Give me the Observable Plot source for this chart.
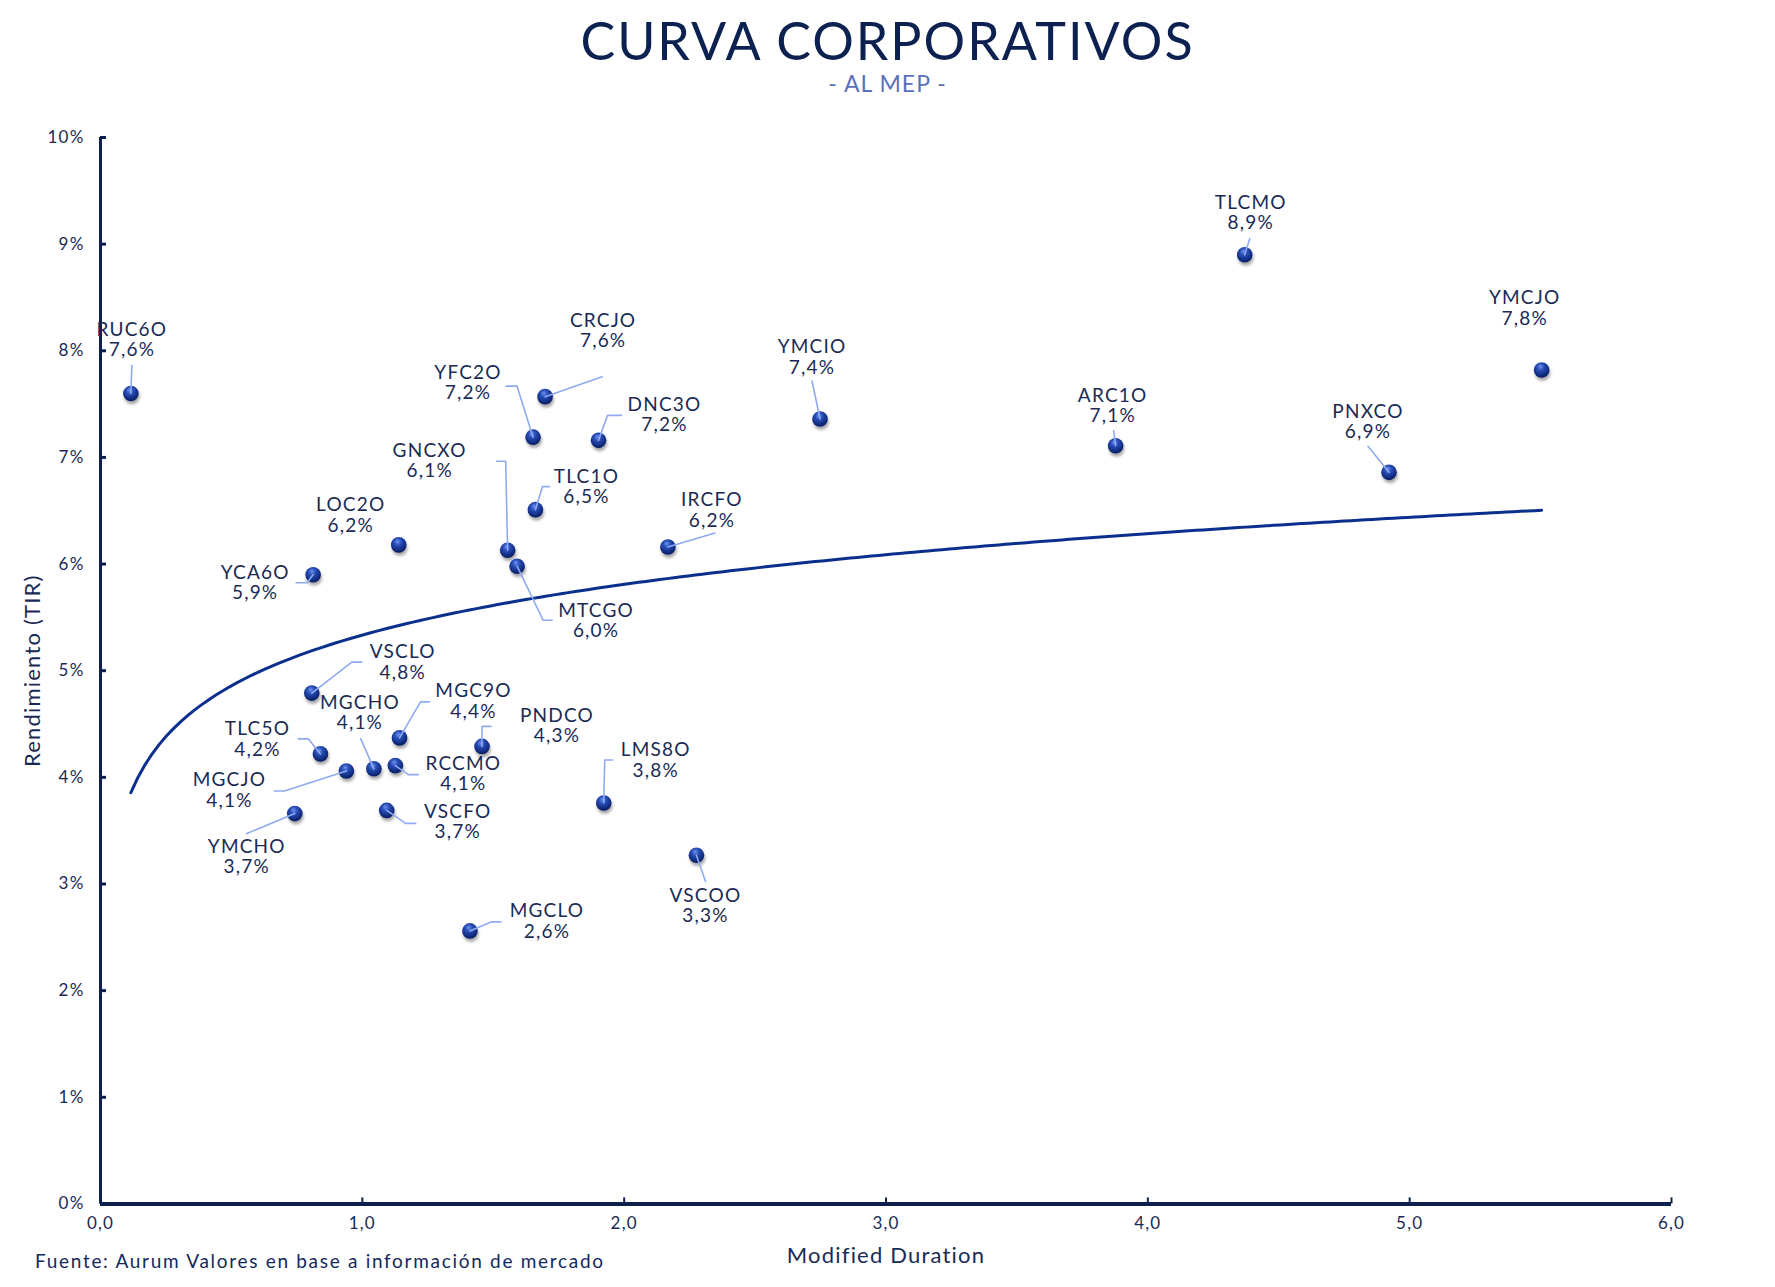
<!DOCTYPE html>
<html>
<head>
<meta charset="utf-8">
<script src="https://cdn.jsdelivr.net/npm/d3@7"></script>
<script src="https://cdn.jsdelivr.net/npm/@observablehq/plot@0.6"></script>
<style>
  html, body { margin: 0; padding: 0; background: #fff; }
  body { width: 1775px; height: 1287px; position: relative; overflow: hidden; font-family: Lato, "Open Sans", sans-serif; }
  #title { position: absolute; left: 0; width: 1775px; top: 14px; text-align: center; font-size: 52px; line-height: 1; color: #0c2150; letter-spacing: 2px; }
  #subtitle { position: absolute; left: 0; width: 1775px; top: 72px; text-align: center; font-size: 23px; line-height: 1; color: #5d6fb9; letter-spacing: 1px; }
  #caption { position: absolute; left: 35px; top: 1251px; font-size: 19px; line-height: 1; color: #14285a; letter-spacing: 1.7px; }
  #chart { position: absolute; left: 0; top: 110px; }
  #chart svg text { letter-spacing: 1.2px; }
</style>
</head>
<body>
<div id="title">CURVA CORPORATIVOS</div>
<div id="subtitle">- AL MEP -</div>
<div id="chart"></div>
<div id="caption">Fuente: Aurum Valores en base a información de mercado</div>
<script>
// ---- data ----
const names = ["RUC6O","YFC2O","CRCJO","DNC3O","YMCIO","TLCMO","YMCJO","ARC1O","PNXCO","GNCXO","TLC1O","LOC2O","YCA6O","MTCGO","IRCFO","VSCLO","MGCHO","MGC9O","TLC5O","PNDCO","RCCMO","MGCJO","YMCHO","VSCFO","LMS8O","VSCOO","MGCLO"];
const duration = [0.116,1.652,1.698,1.902,2.748,4.370,5.504,3.877,4.921,1.555,1.661,1.139,0.812,1.591,2.167,0.807,1.044,1.142,0.840,1.457,1.126,0.939,0.742,1.093,1.922,2.276,1.411];
const yieldPct = [7.60,7.19,7.57,7.16,7.36,8.90,7.82,7.11,6.86,6.13,6.51,6.18,5.90,5.98,6.16,4.79,4.08,4.37,4.22,4.29,4.11,4.06,3.66,3.69,3.76,3.27,2.56];
const xTicks = [0,1,2,3,4,5,6];
const yTicks = [0,1,2,3,4,5,6,7,8,9,10];

// ---- label layout (pixel offsets from each dot) ----
const labelOffset = [[1,-54],[-65,-55],[58,-66],[66,-26],[-8,-62],[6,-42],[-17,-62],[-3,-40],[-21,-51],[-78,-90],[51,-23],[-48,-30],[-58,8],[79,54],[44,-37],[91,-31],[-14,-56],[74,-37],[-63,-15],[75,-21],[68,8],[-117,19],[-48,43],[71,11],[52,-43],[9,50],[77,-10]];
const leaderPath = [
  [[1,-28]], [[-27,-51],[-16,-51]], [[57,-20]], [[23,-25],[9,-25]], [[-8,-38]], [[5,-16]], [], [[-2,-15]], [[-21,-26]],
  [[-11,-89],[-2,-89]], [[14,-23],[7,-23]], [], [[-17,8],[-6,8]], [[35,54],[26,54]], [[47,-14]],
  [[50,-31],[40,-31]], [[-13,-30]], [[30,-36],[21,-36]], [[-22,-15],[-12,-15]], [[9,-20],[0,-20]],
  [[23,9],[13,9]], [[-72,20],[-62,20]], [[-48,20]], [[29,13],[19,13]], [[9,-43],[1,-43]], [[9,26]], [[31,-9],[21,-9]]
];

// ---- dimensions ----
const W = 1775, H = 1177;
const mL = 100, mR = 104, mT = 27, mB = 83.6;
const pxPerX = (W - mL - mR) / (xTicks[xTicks.length-1] - xTicks[0]);
const pxPerY = (H - mT - mB) / (yTicks[yTicks.length-1] - yTicks[0]);

const points = names.map((n, i) => ({
  name: n, x: duration[i], y: yieldPct[i],
  label: n + "\n" + yieldPct[i].toFixed(1).replace(".", ",") + "%",
  lx: duration[i] + labelOffset[i][0] / pxPerX,
  ly: yieldPct[i] - labelOffset[i][1] / pxPerY
}));

const leaders = [];
points.forEach((p, i) => {
  const path = leaderPath[i];
  if (!path.length) return;
  path.forEach(([ox, oy]) => leaders.push({name: p.name, x: p.x + ox / pxPerX, y: p.y - oy / pxPerY}));
  leaders.push({name: p.name, x: p.x, y: p.y});
});

// logarithmic trendline fitted to the data (least squares on ln x)
const lx = duration.map(Math.log);
const mx = d3.mean(lx), my = d3.mean(yieldPct);
const b = d3.sum(lx, (v, i) => (v - mx) * (yieldPct[i] - my)) / d3.sum(lx, v => (v - mx) ** 2);
const a = my - b * mx;
const xmin = d3.min(duration), xmax = d3.max(duration);
const trend = d3.range(0, 201).map(k => {
  const x = xmin + (xmax - xmin) * k / 200;
  return {x, y: a + b * Math.log(x)};
});

const navy = "#0c1f4d";
const textColor = "#1a2a55";

const svg = Plot.plot({
  width: W, height: H,
  marginLeft: mL, marginRight: mR, marginTop: mT, marginBottom: mB,
  style: {fontFamily: "Lato, 'Open Sans', sans-serif", color: textColor, background: "transparent", overflow: "visible"},
  x: {domain: [xTicks[0], xTicks[xTicks.length-1]]},
  y: {domain: [yTicks[0], yTicks[yTicks.length-1]]},
  marks: [
    Plot.axisY({ticks: yTicks, tickFormat: d => d + "%", tickSize: -6, tickPadding: 22, label: null, fontSize: 17, stroke: navy, strokeWidth: 3, color: textColor}),
    Plot.axisX({ticks: xTicks, tickFormat: d => d.toFixed(1).replace(".", ","), tickSize: -6, tickPadding: 19, label: null, fontSize: 17, stroke: navy, strokeWidth: 2, color: textColor}),
    Plot.ruleX([xTicks[0]], {stroke: navy, strokeWidth: 3}),
    Plot.ruleY([yTicks[0]], {stroke: navy, strokeWidth: 4}),
    Plot.line(trend, {x: "x", y: "y", stroke: "#0b2f8c", strokeWidth: 3, curve: "linear"}),
    Plot.dot(points, {x: "x", y: "y", r: 7.8, fill: "url(#ball)", stroke: "none"}),
    Plot.line(leaders, {x: "x", y: "y", z: "name", stroke: "#8faaf0", strokeWidth: 1.6, curve: "linear"}),
    Plot.text(points, {x: "lx", y: "ly", text: "label", fontSize: 19, lineHeight: 1.07, fill: textColor, textAnchor: "middle", lineAnchor: "middle"}),
    Plot.text(["Modified Duration"], {frameAnchor: "bottom", dy: 52, fontSize: 22, fill: textColor, textAnchor: "middle", lineAnchor: "middle"}),
    Plot.text(["Rendimiento (TIR)"], {frameAnchor: "left", dx: -68, rotate: -90, fontSize: 22, fill: textColor, textAnchor: "middle", lineAnchor: "middle"})
  ]
});

const defs = d3.select(svg).insert("defs", ":first-child");
const grad = defs.append("radialGradient").attr("id", "ball").attr("cx", "45%").attr("cy", "35%").attr("r", "65%").attr("fx", "42%").attr("fy", "28%");
grad.append("stop").attr("offset", "0%").attr("stop-color", "#6f92f0");
grad.append("stop").attr("offset", "35%").attr("stop-color", "#2a4fb8");
grad.append("stop").attr("offset", "75%").attr("stop-color", "#132f85");
grad.append("stop").attr("offset", "100%").attr("stop-color", "#0a1d5c");
const f = defs.append("filter").attr("id", "shadow").attr("x", "-50%").attr("y", "-50%").attr("width", "200%").attr("height", "200%");
f.append("feDropShadow").attr("dx", 1).attr("dy", 3).attr("stdDeviation", 1.8).attr("flood-color", "#000").attr("flood-opacity", 0.35);
d3.select(svg).selectAll("g[aria-label='dot']").attr("filter", "url(#shadow)");

document.getElementById("chart").appendChild(svg);
</script>
</body>
</html>
